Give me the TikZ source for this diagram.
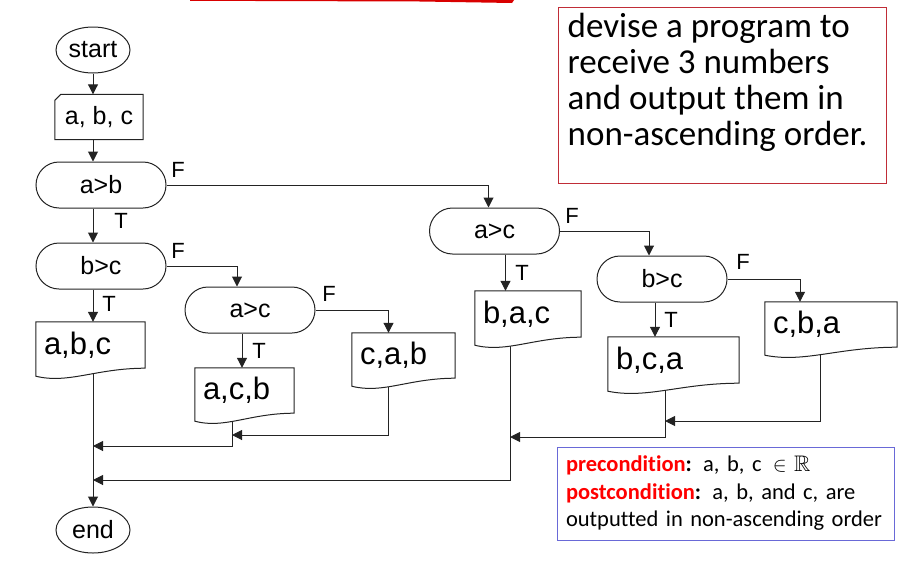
\documentclass[tikz,border=0pt]{standalone}
\usepackage{amssymb}
\usepackage{fontspec}
\setmainfont{Liberation Sans}
\newfontfamily\gillfont[Ligatures=NoCommon]{Carlito}
\usetikzlibrary{shapes.geometric, shapes.misc, arrows.meta, positioning, calc, backgrounds}
\definecolor{taskred}{RGB}{192,45,55}
\definecolor{condblue}{RGB}{105,105,215}
\definecolor{flowline}{RGB}{35,35,35}
\tikzset{
  terminal/.style={ellipse, draw=flowline, line width=1pt, minimum width=74pt,
                   minimum height=46pt, inner sep=0pt, font=\fontsize{25}{30}\selectfont},
  decision/.style={rounded rectangle, draw=flowline, line width=1pt, minimum width=130pt,
                   minimum height=46pt, inner sep=0pt, font=\fontsize{25}{30}\selectfont},
  inputbox/.style={rectangle, minimum width=88pt, minimum height=45pt, inner sep=0pt,
                   font=\fontsize{25}{30}\selectfont},
  docbox/.style={rectangle, inner xsep=8pt, inner ysep=0pt, text width=#1, align=left,
                 minimum height=46pt, font=\fontsize{31}{36}\selectfont},
  docline/.style={line width=1pt, draw=flowline, fill=white},
  arrow/.style={-{Triangle[length=10pt,width=10pt]}, line width=1pt, draw=flowline},
  tflabel/.style={font=\fontsize{22}{26}\selectfont, inner sep=0pt},
  taskbox/.style={rectangle, draw=taskred, line width=1pt, minimum width=328pt, minimum height=176pt},
  tasktext/.style={align=left, inner sep=0pt, font=\gillfont\fontsize{35}{36}\selectfont},
  condbox/.style={rectangle, draw=condblue, line width=1pt, minimum height=93pt, text width=319pt,
                  inner xsep=9pt, align=left, font=\gillfont\fontsize{22.5}{27.5}\selectfont},
}

\begin{document}
\begin{tikzpicture}[x=1pt, y=-1pt]
  \useasboundingbox (0,0) rectangle (915,573);

  %% cut-off title underline
  \fill[red!85!black] (190,0) -- (514,0) -- (512,3) -- (420,1.5) -- (190,0.8) -- cycle;

  %% main column
  \node[terminal] (start) at (93,50) {start};
  \node[inputbox] (inp) at (99,117) {a, b, c};
  \node[decision] (ab) at (101,185) {a>b};
  \node[decision] (bc1) at (101,266) {b>c};
  \node[docbox=93pt] (abc) at (90.5,345) {a,b,c};
  \node[terminal] (end) at (93,530) {end};

  %% a>b false branch
  \node[decision] (ac1) at (250,310) {a>c};
  \node[docbox=83pt, minimum height=45pt] (acb) at (244.5,390.5) {a,c,b};
  \node[docbox=87pt, minimum height=45pt] (cab) at (403.5,355.5) {c,a,b};
  \node[decision] (ac2) at (494.5,231) {a>c};
  \node[docbox=90pt] (bac) at (528,314) {b,a,c};
  \node[decision] (bc2) at (662,279) {b>c};
  \node[docbox=115pt] (bca) at (673.5,360) {b,c,a};
  \node[docbox=116pt, minimum height=45pt] (cba) at (831,324.5) {c,b,a};

  %% T / F labels
  \node[tflabel] (fab) at (178,170) {F};
  \node[tflabel] (tab) at (121,221) {T};
  \node[tflabel] (fbc1) at (178,251) {F};
  \node[tflabel] (tbc1) at (109,304) {T};
  \node[tflabel] (fac1) at (329,294) {F};
  \node[tflabel] (tac1) at (259,351) {T};
  \node[tflabel] (fac2) at (572,216) {F};
  \node[tflabel] (tac2) at (522,273) {T};
  \node[tflabel] (fbc2) at (743,262) {F};
  \node[tflabel] (tbc2) at (671,320) {T};

  %% junctions
  \coordinate (jcab) at (232,435);
  \coordinate (jacb) at (93,446);
  \coordinate (jcba) at (665,421);
  \coordinate (jbca) at (510,437);
  \coordinate (jbac) at (93,480);

  %% input shape
  \draw[line width=1pt, draw=flowline] ([yshift=-6pt]inp.north west) -- ([xshift=6pt]inp.north west)
    -- (inp.north east) -- (inp.south east) -- (inp.south west) -- cycle;

  \begin{pgfonlayer}{background}
    %% spine
    \draw[arrow] (start) -- (inp.north -| start);
    \draw[arrow] (inp.south -| start) -- (ab.north -| start);
    \draw[arrow] (ab.south -| start) -- (bc1.north -| start);
    \draw[arrow] (bc1.south -| start) -- (abc.north -| start);
    \draw[arrow] (abc.south -| start) -- (end);

    %% F branches
    \draw[arrow] (ab.east) -| ([xshift=-6pt]ac2.north);
    \draw[arrow] (bc1.east) -| ([xshift=-13pt]ac1.north);
    \draw[arrow] (ac1.east) -| ([xshift=-15pt]cab.north);
    \draw[arrow] (ac2.east) -| ([xshift=-13pt]bc2.north);
    \draw[arrow] (bc2.east) -| ([xshift=-31pt]cba.north);

    %% T branches
    \draw[arrow] ([xshift=-8pt]ac1.south) -- ([xshift=-8pt]ac1.south |- acb.north);
    \draw[arrow] ([xshift=11pt]ac2.south) -- ([xshift=11pt]ac2.south |- bac.north);
    \draw[arrow] ([xshift=-7pt]bc2.south) -- ([xshift=-7pt]bc2.south |- bca.north);

    %% merges
    \draw[arrow] ([xshift=-15pt]cab.south) |- (jcab);
    \draw[arrow] (acb.south -| jcab) |- (jacb);
    \draw[arrow] ([xshift=-11pt]cba.south) |- (jcba);
    \draw[arrow] (bca.south -| jcba) |- (jbca);
    \draw[arrow] (bac.south -| jbca) |- (jbac);

    %% document shapes
    \foreach \doc in {abc,acb,cab,bac,bca,cba}
      \draw[docline] (\doc.north west) -- (\doc.north east) -- (\doc.south east)
        .. controls ($(\doc.south east)!0.45!(\doc.south west)$) and ($(\doc.south west)!0.3!(\doc.south east)+(0,16)$)
        .. ($(\doc.south west)+(0,8)$) -- cycle;
  \end{pgfonlayer}

  %% task and conditions
  \node[taskbox] (task) at (722,95) {};
  \node[tasktext, anchor=north west] (tasktxt) at ([xshift=10pt,yshift=-6pt]task.north west)
    {devise a program to\\receive 3 numbers\\and output them in\\non-ascending order.};
  \node[condbox] (cond) at (725.5,493.5)
    {\textcolor{red}{\bfseries precondition}\textbf{:} a, b, c\enspace$\in$\ $\mathbb{R}$\\
     \textcolor{red}{\bfseries postcondition}\textbf{:} a, b, and c, are\\
     outputted in non-ascending order};

\end{tikzpicture}
\end{document}
